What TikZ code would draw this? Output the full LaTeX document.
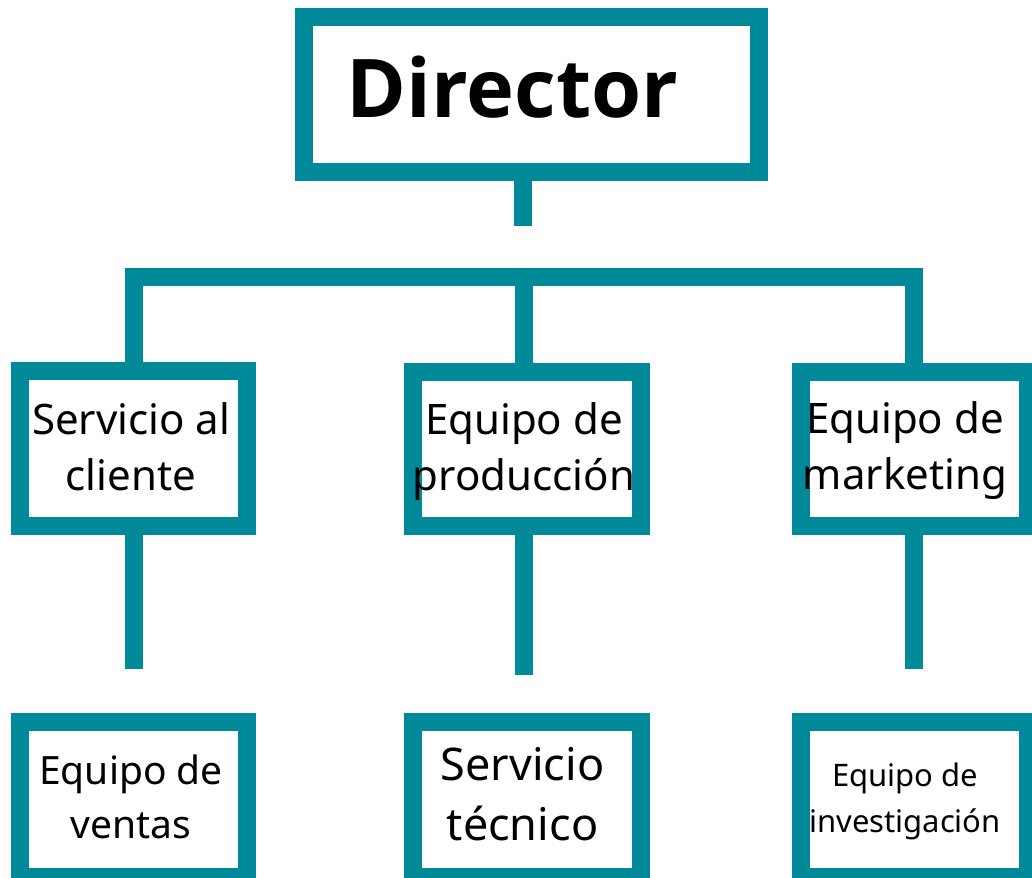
\documentclass[tikz,border=0pt]{standalone}
\usepackage{fontspec}
\setmainfont{Noto Sans}
\newfontfamily\dirfont{Open Sans}
\definecolor{teal1}{RGB}{0,137,153}
\tikzset{
  orgbox/.style={draw=teal1, line width=18pt, fill=white, inner sep=0pt, outer sep=0pt, rectangle},
  conn/.style={draw=teal1, line width=18pt, line join=miter},
  lbl/.style={inner sep=0pt, outer sep=0pt, align=center, anchor=base, text=black},
}
\begin{document}
\begin{tikzpicture}[x=1pt,y=-1pt]
\fill[white] (0,0) rectangle (1032,877);
\useasboundingbox (0,0) rectangle (1032,877);
% boxes
\node[orgbox, minimum width=455pt, minimum height=155pt] (dir) at (531,94.5) {};
\node[orgbox, minimum width=227.5pt, minimum height=155.5pt] (b1) at (133.25,448.25) {};
\node[orgbox, minimum width=227.5pt, minimum height=154pt] (b2) at (526.75,448.5) {};
\node[orgbox, minimum width=227pt, minimum height=154pt] (b3) at (914,448.5) {};
\node[orgbox, minimum width=227.5pt, minimum height=155pt] (b4) at (133.25,799.5) {};
\node[orgbox, minimum width=227.5pt, minimum height=155pt] (b5) at (526.75,799.5) {};
\node[orgbox, minimum width=227pt, minimum height=155pt] (b6) at (914,799.5) {};
% connectors
\coordinate (s0) at (523,226);
\draw[conn] (dir.south -| s0) -- (s0);
\coordinate (c1) at (133.5,276.5);
\coordinate (c2) at (523.5,276.5);
\coordinate (c3) at (913.5,276.5);
\draw[conn] (b1.north -| c1) -- (c1) -- (c3) -- (b3.north -| c3);
\draw[conn] (c2) -- (b2.north -| c2);
\coordinate (e1) at (133.5,669);
\coordinate (e2) at (523.5,675);
\coordinate (e3) at (913.5,669);
\draw[conn] (b1.south -| e1) -- (e1);
\draw[conn] (b2.south -| e2) -- (e2);
\draw[conn] (b3.south -| e3) -- (e3);
% texts (anchor base = baseline of last line)
\node[lbl, font=\dirfont\fontsize{81}{100}\selectfont\bfseries] (tdir) at (512.5,118) {Director};
\node[lbl, font=\fontsize{42}{56}\selectfont] (t1) at (131,490) {Servicio al\\cliente};
\node[lbl, font=\fontsize{42}{56}\selectfont] (t2) at (524,490) {Equipo de\\producción};
\node[lbl, font=\fontsize{42}{56}\selectfont] (t3) at (905,489) {Equipo de\\marketing};
\node[lbl, font=\fontsize{39}{54}\selectfont] (t4) at (131,838) {Equipo de\\ventas};
\node[lbl, font=\fontsize{45}{60}\selectfont] (t5) at (522.5,840) {Servicio\\técnico};
\node[lbl, font=\fontsize{31}{46}\selectfont] (t6) at (905,832) {Equipo de\\investigación};
\end{tikzpicture}
\end{document}
